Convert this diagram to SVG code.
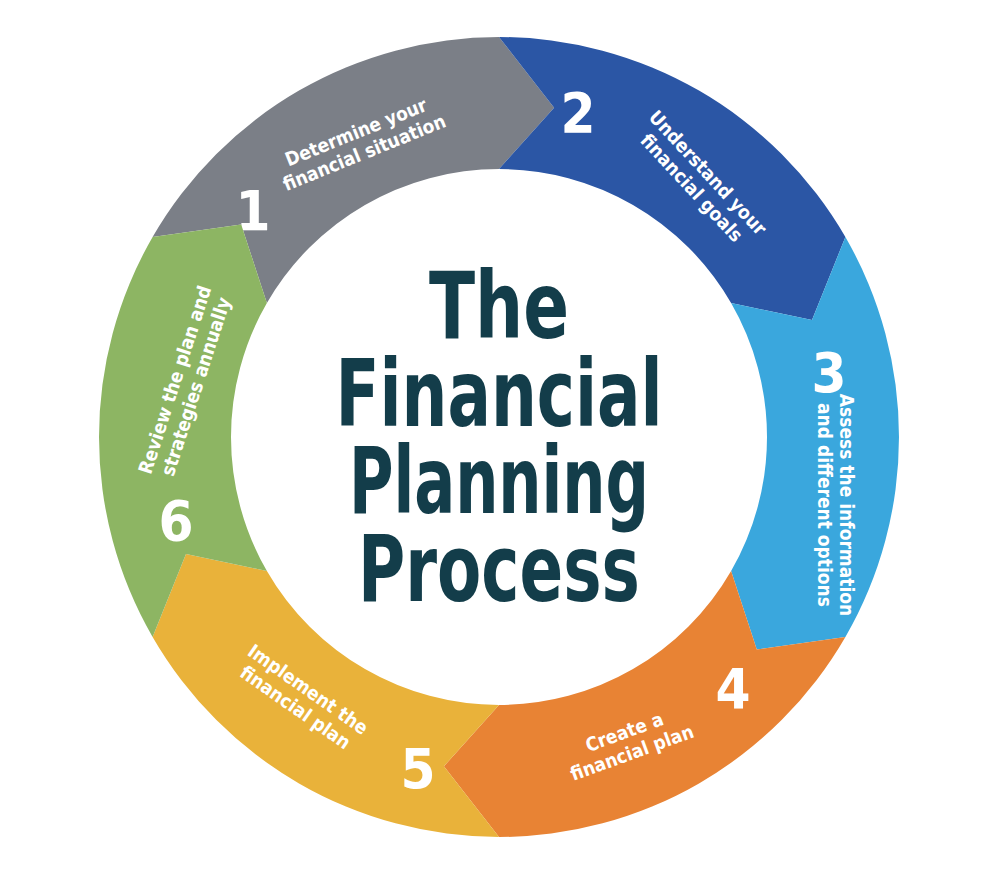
<svg xmlns="http://www.w3.org/2000/svg" width="998" height="874" viewBox="0 0 998 874">
<style>
.n{font-family:"DejaVu Sans Condensed","DejaVu Sans",sans-serif;font-weight:bold;fill:#fff;font-size:56px;text-anchor:middle}
.l{font-family:"DejaVu Sans Condensed","DejaVu Sans",sans-serif;font-weight:bold;fill:#fff;font-size:19px;text-anchor:middle}
.t{font-family:"DejaVu Sans Condensed","DejaVu Sans",sans-serif;font-weight:bold;fill:#133d4a;font-size:92px;text-anchor:middle}
</style>
<rect width="998" height="874" fill="#fff"/>
<g id="step1"><path fill="#7b7f87" d="M152.6,237 A400,400 0 0 1 499,37 L554.1,107.7 L499,169 A268,268 0 0 0 266.9,303 L241.2,224.6 Z"/>
<text class="n" x="253" y="230">1</text>
<g transform="translate(360,142) rotate(-22)"><text class="l" y="-4">Determine your</text><text class="l" y="18">financial situation</text></g></g>
<g id="step2"><path fill="#2b56a5" d="M499,37 A400,400 0 0 1 845.4,237 L812,320.1 L731.1,303 A268,268 0 0 0 499,169 L554.1,107.7 Z"/>
<text class="n" x="578" y="132">2</text>
<g transform="translate(700,180) rotate(47)"><text class="l" y="-4">Understand your</text><text class="l" y="18">financial goals</text></g></g>
<g id="step3"><path fill="#3aa7dd" d="M845.4,237 A400,400 0 0 1 845.4,637 L756.8,649.4 L731.1,571 A268,268 0 0 0 731.1,303 L812,320.1 Z"/>
<text class="n" x="829" y="392">3</text>
<g transform="translate(836,505) rotate(90)"><text class="l" y="-4">Assess the information</text><text class="l" y="18">and different options</text></g></g>
<g id="step4"><path fill="#e88334" d="M845.4,637 A400,400 0 0 1 499,837 L443.9,766.3 L499,705 A268,268 0 0 0 731.1,571 L756.8,649.4 Z"/>
<text class="n" x="733" y="708">4</text>
<g transform="translate(628,742) rotate(-20)"><text class="l" y="-4">Create a</text><text class="l" y="18">financial plan</text></g></g>
<g id="step5"><path fill="#e9b23a" d="M499,837 A400,400 0 0 1 152.6,637 L186,553.9 L266.9,571 A268,268 0 0 0 499,705 L443.9,766.3 Z"/>
<text class="n" x="418" y="788">5</text>
<g transform="translate(302,698) rotate(35)"><text class="l" y="-4">Implement the</text><text class="l" y="18">financial plan</text></g></g>
<g id="step6"><path fill="#8db563" d="M152.6,637 A400,400 0 0 1 152.6,237 L241.2,224.6 L266.9,303 A268,268 0 0 0 266.9,571 L186,553.9 Z"/>
<text class="n" x="176" y="540">6</text>
<g transform="translate(185,383) rotate(-72)"><text class="l" y="-4">Review the plan and</text><text class="l" y="18">strategies annually</text></g></g>
<g id="connectors"></g>
<g id="title">
<text class="t" x="499" y="338" textLength="140" lengthAdjust="spacingAndGlyphs">The</text>
<text class="t" x="499" y="426" textLength="327" lengthAdjust="spacingAndGlyphs">Financial</text>
<text class="t" x="499" y="513" textLength="300" lengthAdjust="spacingAndGlyphs">Planning</text>
<text class="t" x="499" y="601" textLength="282" lengthAdjust="spacingAndGlyphs">Process</text>
</g>
</svg>
